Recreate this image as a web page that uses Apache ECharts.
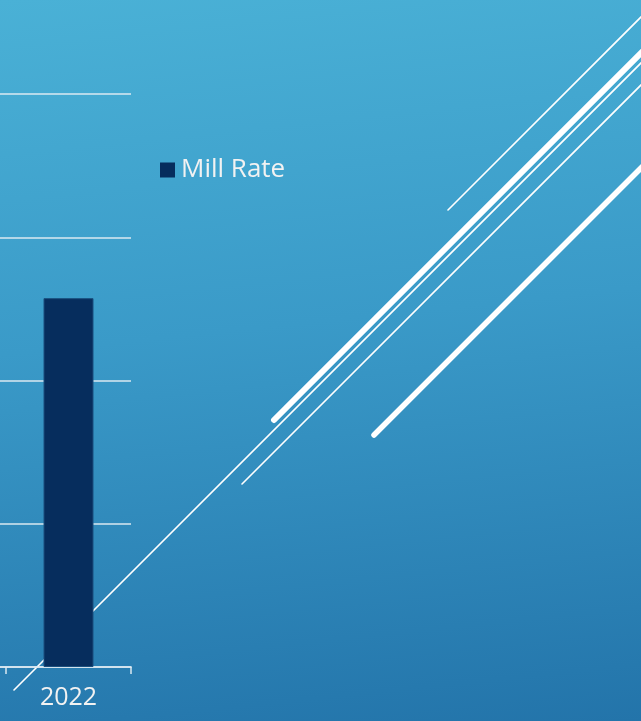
<!DOCTYPE html>
<html>
<head>
<meta charset="utf-8">
<script src="https://cdn.jsdelivr.net/npm/echarts@6/dist/echarts.min.js"></script>
<style>
  html, body { margin: 0; padding: 0; }
  #chart {
    width: 641px; height: 721px;
    background: linear-gradient(174deg, #4AB1D6 0%, #3A9AC8 45%, #2374AA 100%);
  }
</style>
</head>
<body>
<div id="chart"></div>
<script>
// Mill rate by year
const categories = ['', '2022'];
const millRate = [null, 25.75];
const seriesName = 'Mill Rate';
const yMin = 0, yMax = 40, yStep = 10;

const ink = '#F2F2F2';
const gridInk = 'rgba(225,236,242,0.72)';
const font = '"Open Sans", Lato, sans-serif';

// diagonal slide ornaments: [x1, y1, x2, y2, width]
const strokes = [
  [448, 210, 648, 10, 1.6],
  [274, 420, 648, 46, 6],
  [14, 690, 648, 56, 1.6],
  [242, 484, 648, 78, 1.6],
  [374, 435, 648, 161, 5.5]
];

const chart = echarts.init(document.getElementById('chart'));
chart.setOption({
  backgroundColor: 'transparent',
  animation: false,
  graphic: strokes.map(s => ({
    type: 'line',
    z: 0,
    shape: { x1: s[0], y1: s[1], x2: s[2], y2: s[3] },
    style: { stroke: '#FFFFFF', lineWidth: s[4], lineCap: 'round' }
  })),
  legend: {
    left: 155, top: 152,
    icon: 'rect', itemWidth: 15, itemHeight: 15, itemGap: 10,
    itemStyle: { borderWidth: 0 },
    textStyle: { color: ink, fontSize: 26, fontFamily: font, padding: [0, 0, 0, 1] },
    data: [seriesName]
  },
  grid: {
    left: -119, right: 510, top: 94, bottom: 54,
    containLabel: false, outerBoundsMode: 'none'
  },
  xAxis: {
    type: 'category',
    data: categories,
    axisLine: { lineStyle: { color: gridInk, width: 2 } },
    axisTick: { show: true, length: 7, interval: 0, lineStyle: { color: gridInk, width: 2 } },
    axisLabel: { show: true, interval: 0, color: ink, fontSize: 25, fontFamily: font, margin: 18 }
  },
  yAxis: {
    type: 'value',
    min: yMin, max: yMax, interval: yStep,
    axisLine: { show: false },
    axisTick: { show: false },
    axisLabel: { show: false },
    splitLine: { lineStyle: { color: gridInk, width: 2 } }
  },
  series: [{
    name: seriesName,
    type: 'bar',
    z: 3,
    data: millRate,
    barWidth: '40%',
    itemStyle: { color: '#062D5D', borderColor: '#1A4F7E', borderWidth: 1 }
  }]
});
</script>
</body>
</html>
